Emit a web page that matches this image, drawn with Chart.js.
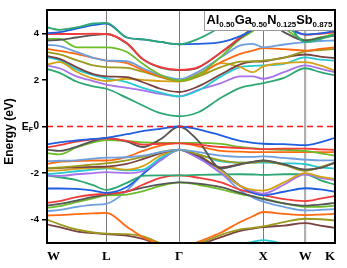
<!DOCTYPE html>
<html>
<head>
<meta charset="utf-8">
<script src="https://cdn.jsdelivr.net/npm/chart.js@4.4.1/dist/chart.umd.min.js"></script>
<style>
  html, body { margin: 0; padding: 0; background: #fff; }
  #wrap { width: 347px; height: 268px; }
</style>
</head>
<body>
<div id="wrap"><canvas id="bands"></canvas></div>
<script>
// k-path (W-L-G-X-W-K), positions in path length units
const kPath = [0, 0.15, 0.35, 0.55, 0.707, 0.95, 1.14, 1.35, 1.573, 1.8, 2.07, 2.3, 2.45, 2.573, 2.82, 3.073, 3.25, 3.427];
const kTicks = [0, 0.707, 1.573, 2.573, 3.073, 3.427];
const kLabels = ["W", "L", "\u0393", "X", "W", "K"];
const energyTicks = [-4, -2, 0, 2, 4];
const fermiLevel = 0;

// conduction bands (eV)
const cbGreenTop = [4.26, 4.15, 4.25, 4.42, 4.45, 3.82, 3.74, 3.63, 3.53, 3.76, 4.26, 4.62, 4.85, 5.0, 4.6, 3.62, 3.75, 3.95];
const cbBlue     = [4.00, 4.05, 4.20, 4.35, 4.42, 3.82, 3.74, 3.63, 3.53, 3.55, 3.62, 3.88, 4.15, 4.40, 4.25, 3.95, 4.00, 4.10];
const cbRed      = [3.97, 3.97, 3.97, 3.98, 3.97, 3.58, 2.90, 2.55, 2.43, 2.55, 3.19, 3.83, 4.25, 4.70, 4.45, 3.93, 3.98, 4.04];
const cbDkgray   = [3.69, 3.72, 3.82, 3.92, 3.97, 3.56, 2.88, 2.53, 2.42, 2.53, 3.17, 3.80, 4.20, 4.60, 4.05, 3.69, 3.80, 3.90];
const cbLime     = [3.76, 3.76, 3.40, 3.40, 3.40, 3.20, 2.69, 2.22, 1.97, 2.23, 3.00, 3.76, 4.10, 4.50, 4.20, 3.71, 3.82, 3.97];
const cbLtblue   = [3.50, 3.45, 3.20, 2.95, 2.83, 2.80, 2.50, 2.20, 2.03, 2.35, 2.97, 3.48, 3.55, 3.40, 3.52, 3.62, 3.67, 3.69];
const cbOrange   = [3.33, 3.25, 3.12, 2.95, 2.83, 2.72, 2.42, 2.15, 1.98, 2.26, 2.76, 3.12, 3.26, 3.36, 3.32, 3.26, 3.33, 3.40];
const cbOlive    = [3.19, 3.10, 2.85, 2.62, 2.55, 2.52, 2.35, 2.12, 1.95, 2.15, 2.55, 2.78, 2.80, 2.83, 2.95, 3.22, 3.28, 3.33];
const cbBrown    = [3.03, 2.90, 2.55, 2.25, 2.15, 2.12, 1.90, 1.62, 1.48, 1.72, 2.24, 2.67, 2.78, 2.80, 2.96, 3.09, 3.00, 2.94];
const cbGold     = [2.66, 2.76, 2.35, 2.05, 1.95, 2.05, 2.00, 1.95, 1.93, 2.15, 2.72, 2.55, 2.33, 2.58, 2.72, 2.76, 2.62, 2.40];
const cbCyan     = [2.97, 2.85, 2.45, 2.20, 2.07, 1.90, 1.66, 1.45, 1.29, 1.55, 2.15, 2.55, 2.60, 2.62, 2.69, 2.97, 2.87, 2.83];
const cbViolet   = [2.61, 2.50, 2.15, 1.95, 1.80, 1.66, 1.55, 1.40, 1.29, 1.57, 1.86, 2.15, 2.15, 2.05, 2.33, 2.62, 2.48, 2.33];
const cbGreen    = [2.47, 2.30, 1.93, 1.72, 1.62, 1.23, 0.90, 0.57, 0.44, 0.61, 1.23, 1.66, 1.78, 1.86, 2.09, 2.50, 2.33, 2.19];

// valence bands (eV)
const vbBlue1   = [-0.77, -0.68, -0.60, -0.53, -0.49, -0.33, -0.20, -0.10, 0.00, -0.12, -0.38, -0.62, -0.70, -0.74, -0.76, -0.80, -0.68, -0.49];
const vbRed1    = [-0.90, -0.80, -0.65, -0.55, -0.52, -0.62, -0.78, -0.74, -0.72, -0.78, -0.88, -0.93, -0.95, -0.97, -0.95, -0.95, -0.98, -1.00];
const vbDkgray1 = [-0.99, -1.05, -0.87, -0.62, -0.49, -0.65, -0.88, -0.55, 0.00, -0.62, -1.80, -1.62, -1.52, -1.46, -1.62, -1.85, -1.78, -1.55];
const vbLime1   = [-1.14, -1.20, -0.90, -0.68, -0.58, -0.62, -0.68, -0.70, -0.70, -0.70, -0.75, -0.88, -0.93, -0.97, -1.00, -1.05, -1.15, -1.25];
const vbLtblue1 = [-1.49, -1.47, -1.45, -1.38, -1.34, -1.32, -1.25, -1.10, -0.99, -1.10, -1.25, -1.30, -1.30, -1.28, -1.35, -1.42, -1.45, -1.45];
const vbOrange1 = [-1.60, -1.52, -1.48, -1.46, -1.46, -1.30, -1.05, -0.82, -0.70, -0.85, -1.05, -1.08, -1.10, -1.10, -1.10, -1.10, -1.10, -1.10];
const vbOlive1  = [-1.79, -1.76, -1.70, -1.63, -1.58, -1.45, -1.30, -1.10, -0.99, -1.20, -1.45, -1.55, -1.55, -1.50, -1.65, -1.90, -1.75, -1.55];
const vbBrown1  = [-1.80, -1.78, -1.75, -1.73, -1.72, -1.60, -1.40, -1.15, -0.99, -1.25, -1.75, -1.62, -1.52, -1.47, -1.63, -1.86, -1.78, -1.55];
const vbGold1   = [-1.90, -1.88, -1.82, -1.78, -1.76, -1.85, -1.70, -1.25, -0.99, -1.24, -1.89, -2.55, -2.72, -2.75, -2.40, -2.00, -2.15, -2.25];
const vbCyan1   = [-2.05, -2.00, -1.92, -1.85, -1.80, -1.88, -1.85, -1.35, -1.00, -1.20, -1.50, -1.55, -1.55, -1.55, -1.58, -1.62, -1.75, -1.80];
const vbViolet1 = [-2.10, -2.12, -2.05, -2.00, -1.96, -2.00, -1.92, -1.45, -1.00, -1.35, -2.00, -2.55, -2.78, -2.88, -2.50, -2.05, -2.20, -2.30];
const vbGreen1  = [-2.10, -2.18, -2.30, -2.52, -2.72, -2.42, -2.12, -2.10, -2.10, -2.08, -2.06, -2.05, -2.06, -2.08, -2.05, -2.05, -2.30, -2.50];
const vbBlue2   = [-2.66, -2.66, -2.68, -2.75, -2.85, -2.60, -2.05, -1.45, -1.00, -1.35, -1.85, -2.55, -2.85, -2.95, -2.80, -2.65, -2.70, -2.80];
const vbRed2    = [-3.28, -3.20, -3.03, -2.93, -2.89, -2.80, -2.50, -2.20, -2.10, -2.20, -2.40, -2.72, -2.85, -2.95, -3.12, -3.20, -3.10, -2.98];
const vbDkgray2 = [-3.40, -3.32, -3.18, -3.02, -2.92, -2.78, -2.62, -2.48, -2.40, -2.45, -2.60, -2.85, -3.00, -3.12, -3.30, -3.40, -3.35, -3.28];
const vbLime2   = [-3.50, -3.42, -3.25, -3.08, -2.96, -2.92, -2.78, -2.55, -2.40, -2.50, -2.70, -2.90, -3.00, -3.08, -3.30, -3.45, -3.45, -3.40];
const vbLtblue2 = [-3.63, -3.58, -3.45, -3.36, -3.32, -2.75, -2.03, -1.39, -1.00, -1.30, -2.00, -2.75, -3.05, -3.22, -3.45, -3.60, -3.58, -3.55];
const vbOrange2 = [-3.82, -3.80, -3.76, -3.73, -3.71, -4.30, -4.75, -5.05, -5.30, -4.95, -4.55, -4.10, -3.85, -3.67, -3.75, -3.80, -3.78, -3.75];
const vbOlive2  = [-4.00, -4.20, -4.42, -4.55, -4.60, -4.62, -4.72, -5.00, -5.25, -5.02, -4.65, -4.42, -4.35, -4.29, -4.10, -3.96, -3.98, -4.03];
const vbBrown2  = [-4.20, -4.32, -4.50, -4.58, -4.62, -4.68, -4.82, -5.10, -5.35, -5.10, -4.75, -4.48, -4.38, -4.32, -4.25, -4.15, -4.25, -4.35];
const vbCyan2   = [-5.60, -5.60, -5.60, -5.60, -5.60, -5.60, -5.60, -5.60, -5.60, -5.50, -5.30, -5.05, -4.95, -4.88, -5.05, -5.30, -5.40, -5.50];

const formula = [["Al", "0.50"], ["Ga", "0.50"], ["N", "0.125"], ["Sb", "0.875"]];

// line colours
const palette = {
    blue: "#1f5fe0",
    red: "#f23c3c",
    dkgray: "#565656",
    lime: "#6cbd2a",
    ltblue: "#6d9fe0",
    orange: "#ff6a12",
    olive: "#9b9a1e",
    brown: "#7a4242",
    gold: "#d3a216",
    cyan: "#25c9d2",
    violet: "#a673ea",
    green: "#2ea873"
};

const bands = [
    ["green", cbGreenTop], ["blue", cbBlue], ["red", cbRed], ["dkgray", cbDkgray],
    ["lime", cbLime], ["ltblue", cbLtblue], ["orange", cbOrange], ["olive", cbOlive],
    ["brown", cbBrown], ["gold", cbGold], ["cyan", cbCyan], ["violet", cbViolet], ["green", cbGreen],
    ["blue", vbBlue1], ["red", vbRed1], ["dkgray", vbDkgray1], ["lime", vbLime1],
    ["ltblue", vbLtblue1], ["orange", vbOrange1], ["olive", vbOlive1], ["brown", vbBrown1],
    ["gold", vbGold1], ["cyan", vbCyan1], ["violet", vbViolet1], ["green", vbGreen1],
    ["blue", vbBlue2], ["red", vbRed2], ["dkgray", vbDkgray2], ["lime", vbLime2],
    ["ltblue", vbLtblue2], ["orange", vbOrange2], ["olive", vbOlive2], ["brown", vbBrown2],
    ["cyan", vbCyan2]
];

const datasets = bands.map(([c, e]) => ({
    data: kPath.map((k, i) => ({ x: k, y: e[i] })),
    borderColor: palette[c],
    borderWidth: 1.8,
    pointRadius: 0,
    fill: false,
    cubicInterpolationMode: "monotone"
}));

datasets.push({
    data: [{ x: kPath[0], y: fermiLevel }, { x: kPath[kPath.length - 1], y: fermiLevel }],
    borderColor: "#ff1a1a",
    borderWidth: 1.5,
    borderDash: [6, 4],
    pointRadius: 0,
    order: -1
});

const tickFont = { family: "Liberation Sans", weight: "bold", size: 9.5 };

const decor = {
    id: "decor",
    afterDatasetsDraw(chart) {
        const { ctx, chartArea: a, scales } = chart;
        ctx.save();

        // formula box
        const big = 13, small = 8;
        let w = 0;
        formula.forEach(([el, n]) => {
            ctx.font = "bold " + big + "px 'Liberation Sans'";
            w += ctx.measureText(el).width;
            ctx.font = "bold " + small + "px 'Liberation Sans'";
            w += ctx.measureText(n).width;
        });
        const s = Math.min(1, 126 / w);
        const bx = a.right - 131, by = a.top, bw = 131, bh = 21;
        ctx.fillStyle = "#fff";
        ctx.fillRect(bx, by, bw, bh);
        ctx.strokeStyle = "#9a9a9a";
        ctx.lineWidth = 1;
        ctx.strokeRect(bx + 0.5, by + 0.5, bw - 1, bh - 1);
        ctx.fillStyle = "#000";
        ctx.textBaseline = "alphabetic";
        ctx.textAlign = "left";
        let tx = bx + 2.5;
        formula.forEach(([el, n]) => {
            ctx.font = "bold " + (big * s) + "px 'Liberation Sans'";
            ctx.fillText(el, tx, by + 13.5);
            tx += ctx.measureText(el).width;
            ctx.font = "bold " + (small * s) + "px 'Liberation Sans'";
            ctx.fillText(n, tx, by + 17);
            tx += ctx.measureText(n).width;
        });

        // frame
        ctx.strokeStyle = "#000";
        ctx.lineWidth = 2;
        ctx.strokeRect(a.left, a.top, a.right - a.left, a.bottom - a.top);

        // E_F 0 label at the Fermi level tick
        const y0 = scales.y.getPixelForValue(fermiLevel);
        const zx = a.left - 5 - 3;
        ctx.textBaseline = "middle";
        ctx.textAlign = "right";
        ctx.font = "bold 10px 'Liberation Sans'";
        ctx.fillText(String(fermiLevel), zx, y0);
        const w0 = ctx.measureText(String(fermiLevel)).width;
        ctx.textBaseline = "alphabetic";
        ctx.font = "bold 7px 'Liberation Sans'";
        const wf = ctx.measureText("F").width;
        const fx = zx - w0 - 0.5 - wf;
        ctx.textAlign = "left";
        ctx.fillText("F", fx, y0 + 5.5);
        ctx.font = "bold 10.5px 'Liberation Sans'";
        ctx.textAlign = "right";
        ctx.fillText("E", fx, y0 + 3.8);

        // y axis title
        ctx.translate(10, (a.top + a.bottom) / 2 + 5);
        ctx.rotate(-Math.PI / 2);
        ctx.textAlign = "center";
        ctx.textBaseline = "middle";
        ctx.font = "bold 12px 'Liberation Sans'";
        ctx.fillText("Energy (eV)", 0, 0);
        ctx.restore();
    }
};

new Chart(document.getElementById("bands"), {
    type: "line",
    data: { datasets },
    options: {
        responsive: true,
        maintainAspectRatio: false,
        animation: false,
        layout: { padding: { top: 10, right: 12, left: 0, bottom: 0 } },
        plugins: { legend: { display: false }, tooltip: { enabled: false } },
        scales: {
            x: {
                type: "linear",
                min: kPath[0],
                max: kPath[kPath.length - 1],
                afterBuildTicks: s => { s.ticks = kTicks.map(v => ({ value: v })); },
                afterFit: s => { s.height = 25; },
                border: { display: false },
                grid: {
                    drawTicks: false,
                    color: c => (c.index === 0 || c.index === kTicks.length - 1) ? "rgba(0,0,0,0)" : (c.index === 4 ? "#b0b0b0" : "#7a7a7a"),
                    lineWidth: c => c.index === 4 ? 2.2 : 1
                },
                ticks: {
                    autoSkip: false,
                    maxRotation: 0,
                    padding: 6,
                    align: "inner",
                    color: "#000",
                    font: { family: "Liberation Serif", weight: "bold", size: 13 },
                    callback: (v, i) => kLabels[i]
                }
            },
            y: {
                min: -5,
                max: 5,
                afterBuildTicks: s => { s.ticks = energyTicks.map(v => ({ value: v })); },
                afterFit: s => { s.width = 47; },
                border: { display: false },
                grid: { drawOnChartArea: false, drawTicks: true, tickLength: 5, color: "#000", lineWidth: 1.5 },
                ticks: { padding: 3, color: "#000", font: tickFont, callback: v => v === fermiLevel ? "" : String(v) }
            }
        }
    },
    plugins: [decor]
});
</script>
</body>
</html>
